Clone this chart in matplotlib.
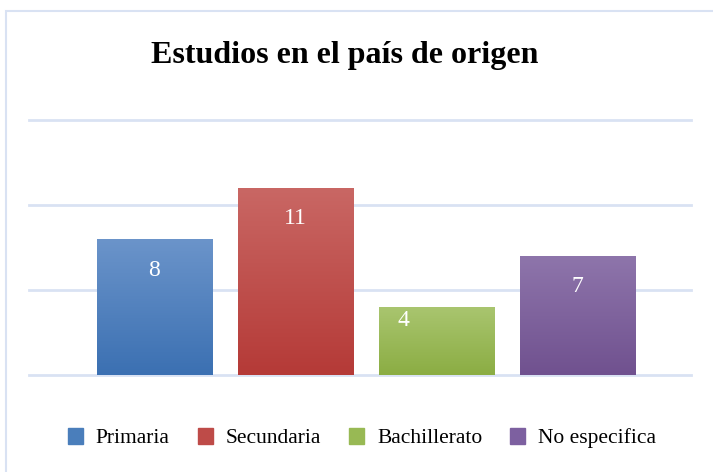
import numpy as np
import matplotlib.pyplot as plt
from matplotlib.colors import LinearSegmentedColormap
from matplotlib.patches import Rectangle

# Datos del gráfico
categorias = ['Primaria', 'Secundaria', 'Bachillerato', 'No especifica']
valores = [8, 11, 4, 7]
colores_arriba = ['#6b94ca', '#c96764', '#a9c56f', '#8e75ab']
colores_abajo = ['#3b70b2', '#b53a37', '#8bad43', '#70518f']
color_base = ['#4a7ebb', '#be4b48', '#98b954', '#7d60a0']

plt.rcParams['font.family'] = ['Liberation Serif', 'DejaVu Serif']

fig = plt.figure(figsize=(7.13, 4.72), dpi=100)
W, H = 713, 472

# Marco del gráfico
fig.patches.append(Rectangle((6 / W, -0.1), 1.2, 1 - 11 / H + 0.1, transform=fig.transFigure,
                             fill=False, edgecolor='#d9e2f3', linewidth=1.5))

ax = fig.add_axes([29 / W, (H - 375) / H, (691 - 29) / W, 255 / H])
x = np.arange(len(categorias))
barras = ax.bar(x, valores, width=0.816, color=color_base, zorder=2)

# Degradado vertical en cada barra
grad = np.linspace(0, 1, 256).reshape(-1, 1)
for b, c1, c2 in zip(barras, colores_arriba, colores_abajo):
    cmap = LinearSegmentedColormap.from_list('g', [c2, c1])
    x0, w, h = b.get_x(), b.get_width(), b.get_height()
    im = ax.imshow(grad, cmap=cmap, origin='lower', aspect='auto',
                   extent=[x0, x0 + w, 0, h], zorder=3)
    im.set_clip_path(b)

ax.set_xlim(-0.887, 3.808)
ax.set_ylim(0, 15)
ax.set_yticks([0, 5, 10, 15])
ax.grid(axis='y', color='#d9e2f3', linewidth=2, zorder=0)
for gl in ax.get_ygridlines():
    gl.set_clip_on(False)
ax.set_xticks([])
ax.tick_params(left=False, labelleft=False)
for s in ax.spines.values():
    s.set_visible(False)

# Etiquetas de valores
for i, v in enumerate(valores):
    if v == 4:
        ax.annotate(str(v), (i, v), xytext=(-33, -13), textcoords='offset pixels',
                    ha='center', va='center', color='white', fontsize=17, zorder=4)
    else:
        ax.annotate(str(v), (i, v), xytext=(0, -31), textcoords='offset pixels',
                    ha='center', va='center', color='white', fontsize=17, zorder=4)

fig.text(345 / W, 1 - 55 / H, 'Estudios en el país de origen', ha='center', va='center',
         fontsize=23, fontweight='bold')

handles = [Rectangle((0, 0), 1, 1, color=c) for c in color_base]
fig.legend(handles, categorias, loc='center', bbox_to_anchor=(362 / W, 1 - 438 / H),
           ncol=4, frameon=False, fontsize=15.5, handlelength=0.7, handleheight=0.8,
           handletextpad=0.6, columnspacing=1.3)

plt.savefig('out.png', dpi=100)
